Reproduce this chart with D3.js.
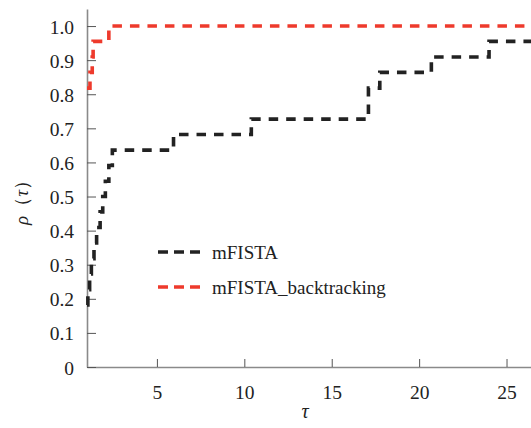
<!DOCTYPE html>
<html>
 <head>
   <meta charset="utf-8" />
   <title>Performance profile</title>
   <script src="https://cdn.jsdelivr.net/npm/d3@7"></script>
 </head>

 <body style="margin:0">
   <script>
     var width = 531, height = 428;
     var serif = "Liberation Serif";

     // step points (tau, rho) for each solver
     var tauFista   = [1.0, 1.05, 1.15, 1.25, 1.4, 1.55, 1.75, 1.9, 2.05, 2.25, 2.45, 5.95, 10.4, 17.1, 17.75, 20.7, 24.0, 26.4];
     var rhoFista   = [0.182, 0.227, 0.273, 0.318, 0.364, 0.409, 0.455, 0.5, 0.545, 0.591, 0.636, 0.682, 0.727, 0.818, 0.864, 0.909, 0.955, 0.955];
     var tauBack    = [1.0, 1.17, 1.3, 1.35, 2.25, 26.4];
     var rhoBack    = [0.818, 0.864, 0.909, 0.955, 1.0, 1.0];

     var xTicks = [5, 10, 15, 20, 25];
     var yTicks = [0, 0.1, 0.2, 0.3, 0.4, 0.5, 0.6, 0.7, 0.8, 0.9, 1.0];
     var seriesNames  = ["mFISTA", "mFISTA_backtracking"];
     var seriesColors = ["#222222", "#ee3a2c"];

     var x = d3.scaleLinear().domain([1, 26.4]).range([87, 531]);
     var y = d3.scaleLinear().domain([0, 1.05]).range([367, 9]);

     var svg = d3.select("body")
                 .append("svg")
                 .attr("width",  width)
                 .attr("height", height);

     // axes, ticks pointing inward
     var xAxis = svg.append("g")
           .attr("transform", "translate(0,367)")
           .call(d3.axisBottom(x).tickValues(xTicks).tickSizeInner(-8).tickSizeOuter(0).tickPadding(18));
     var yAxis = svg.append("g")
           .attr("transform", "translate(87,0)")
           .call(d3.axisLeft(y).tickValues(yTicks).tickSizeInner(-9).tickSizeOuter(0).tickPadding(13)
                 .tickFormat(function(d) { return d == 0 ? "0" : d3.format(".1f")(d); }));

     [xAxis, yAxis].forEach(function(a) {
       a.attr("font-family", serif).attr("font-size", 19.5);
       a.select(".domain").attr("stroke", "#8a8a8a").attr("stroke-width", 1.6);
       a.selectAll(".tick line").attr("stroke", "#555").attr("stroke-width", 1);
       a.selectAll(".tick text").attr("fill", "#222");
     });
     yAxis.selectAll(".tick text").attr("dy", "0.36em");

     // axis labels
     svg.append("text")
           .attr("x", 305).attr("y", 418)
           .attr("text-anchor", "middle")
           .attr("font-family", serif)
           .attr("font-size", 20)
           .attr("font-style", "italic")
           .attr("fill", "#222")
           .text("τ");

     var yl = svg.append("text")
           .attr("transform", "translate(28,198) rotate(-90)")
           .attr("text-anchor", "middle")
           .attr("font-family", serif)
           .attr("font-size", 19)
           .attr("fill", "#222");
     yl.append("tspan").attr("font-style", "italic").text("ρ");
     yl.append("tspan").text("（");
     yl.append("tspan").attr("font-style", "italic").text("τ");
     yl.append("tspan").text("）");

     // curves
     var line = d3.line()
           .x(function(d) { return x(d[0]); })
           .y(function(d) { return y(d[1]); })
           .curve(d3.curveStepAfter);

     var curves = [d3.zip(tauFista, rhoFista), d3.zip(tauBack, rhoBack)];

     svg.append("g").selectAll("path")
           .data(curves)
         .enter().append("path")
           .attr("d", line)
           .attr("fill", "none")
           .attr("stroke", function(d, i) { return seriesColors[i]; })
           .attr("stroke-width", 3.6)
           .attr("stroke-dasharray", "9.5,8");

     // legend
     var legend = svg.append("g").selectAll("g")
           .data(seriesNames)
         .enter().append("g")
           .attr("transform", function(d, i) { return "translate(158," + (252 + i * 35) + ")"; });

     legend.append("line")
           .attr("x1", 0).attr("x2", 42)
           .attr("stroke", function(d, i) { return seriesColors[i]; })
           .attr("stroke-width", 3.6)
           .attr("stroke-dasharray", "10,6");

     legend.append("text")
           .attr("x", 54).attr("y", 6.5)
           .attr("font-family", serif)
           .attr("font-size", 19)
           .attr("fill", "#222")
           .text(function(d) { return d; });
  </script>
 </body>
</html>
